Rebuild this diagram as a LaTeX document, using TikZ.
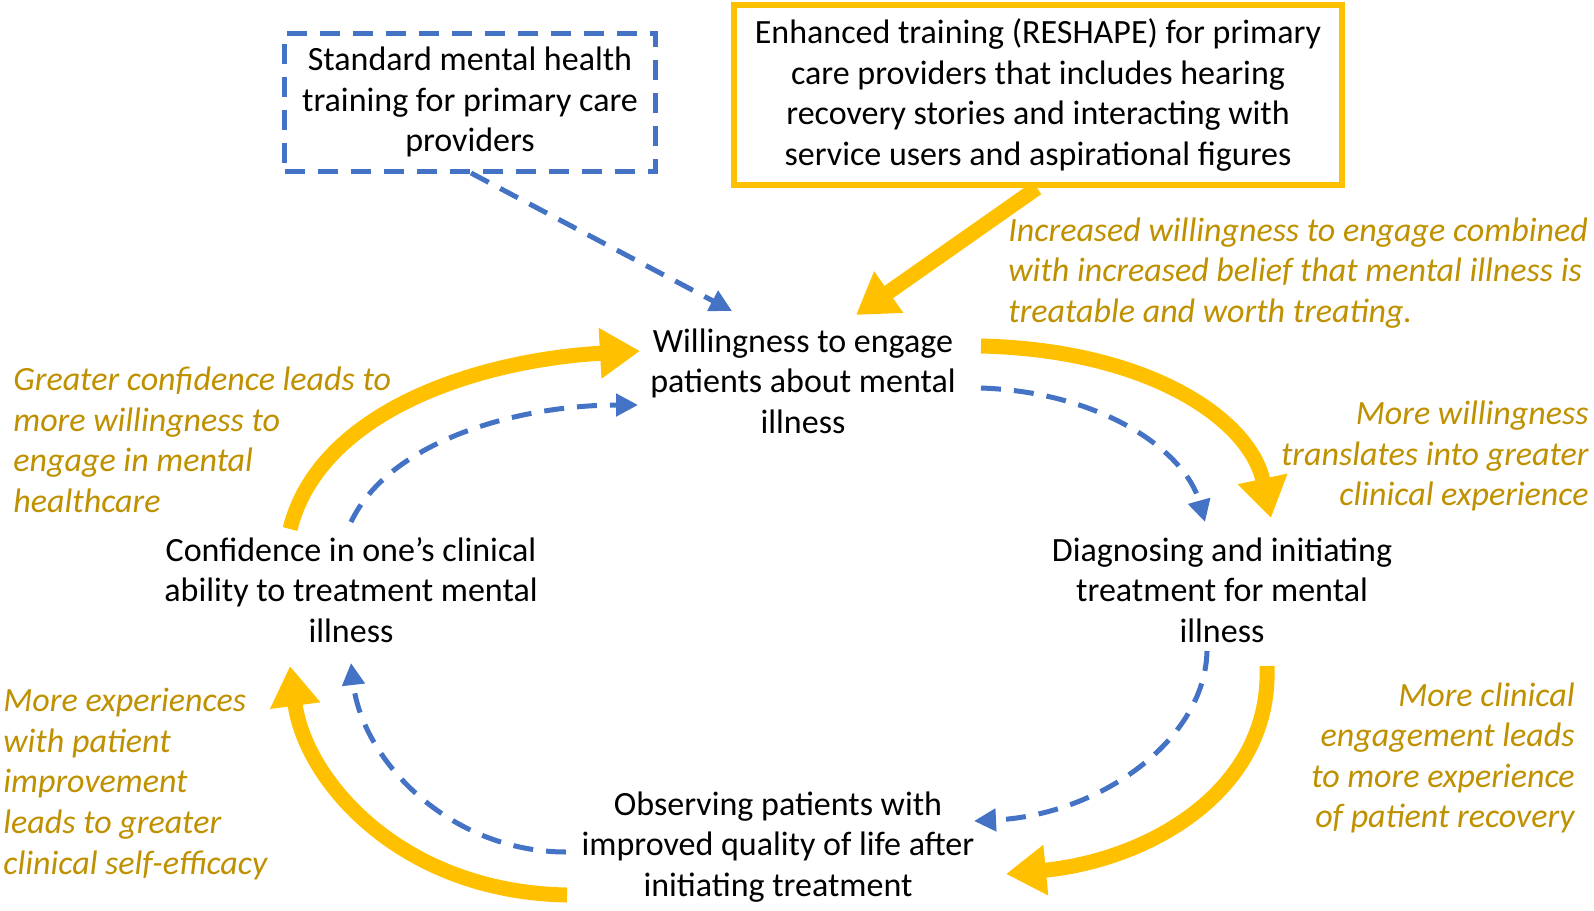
\documentclass[tikz,border=0pt]{standalone}
\usepackage{fontspec}
\setmainfont{Carlito}
\usetikzlibrary{arrows.meta}
\definecolor{ygold}{HTML}{FFC000}
\definecolor{bblue}{HTML}{4472C4}
\definecolor{lgold}{HTML}{BF9000}
\begin{document}
\begin{tikzpicture}[x=0.5pt,y=-0.5pt,
  main/.style={align=center,inner sep=0pt,font=\fontsize{17}{20.3}\selectfont},
  lab/.style={inner sep=0pt,text=lgold,font=\fontsize{17}{20.3}\selectfont\itshape},
  yarrow/.style={draw=ygold,line width=7.5pt,-{Triangle[length=20pt,width=24pt]}},
  barrow/.style={draw=bblue,line width=2.5pt,dash pattern=on 10pt off 6.5pt,-{Triangle[length=11pt,width=11pt]}}]
\useasboundingbox (0,0) rectangle (1594,910);
% boxes
\node[main,draw=bblue,line width=2.5pt,dash pattern=on 10pt off 6.5pt,minimum width=185.5pt,minimum height=69pt] (std) at (470,102) {Standard mental health\\training for primary care\\providers};
\node[main,draw=ygold,line width=3pt,minimum width=304pt,minimum height=90pt] (enh) at (1038,95) {Enhanced training (RESHAPE) for primary\\care providers that includes hearing\\recovery stories and interacting with\\service users and aspirational figures};
% main nodes
\node[main] (will) at (803,381) {Willingness to engage\\patients about mental\\illness};
\node[main] (conf) at (351,590) {Confidence in one’s clinical\\ability to treatment mental\\illness};
\node[main] (diag) at (1222,590) {Diagnosing and initiating\\treatment for mental\\illness};
\node[main] (obs) at (778,847) {Observing patients with\\improved quality of life after\\initiating treatment};
% labels
\node[lab,align=left,anchor=west] (l1) at (1008,273) {Increased willingness to engage combined\\with increased belief that mental illness is\\treatable and worth treating.};
\node[lab,align=right,anchor=east] (l2) at (1589,456) {More willingness\\translates into greater\\clinical experience};
\node[lab,align=right,anchor=east] (l3) at (1575,758) {More clinical\\engagement leads\\to more experience\\of patient recovery};
\node[lab,align=left,anchor=west] (l4) at (13,440) {Greater confidence leads to\\more willingness to\\engage in mental\\healthcare};
\node[lab,align=left,anchor=west] (l5) at (3,784) {More experiences\\with patient\\improvement\\leads to greater\\clinical self-efficacy};
% connector endpoints
\coordinate (s1) at (471,173); \coordinate (e1) at (732,311);
\coordinate (s2) at (1037,188); \coordinate (e2) at (856,315);
\coordinate (s3) at (981,346); \coordinate (e3) at (1271,518);
\coordinate (s4) at (981,388); \coordinate (e4) at (1205,522);
\coordinate (s5) at (1267,666); \coordinate (e5) at (1006,874);
\coordinate (s6) at (1207,651); \coordinate (e6) at (974,821);
\coordinate (s7) at (567,895); \coordinate (e7) at (290,666);
\coordinate (s8) at (566,852); \coordinate (e8) at (351,663);
\coordinate (s9) at (290,529); \coordinate (e9) at (640,351);
\coordinate (s10) at (351,522); \coordinate (e10) at (638,405);
% connectors
\draw[barrow] (s1) -- (e1);
\draw[yarrow] (s2) -- (e2);
\draw[yarrow] (s3) .. controls (1150,350) and (1250,420) .. (e3);
\draw[barrow] (s4) .. controls (1100,392) and (1185,450) .. (e4);
\draw[yarrow] (s5) .. controls (1272,790) and (1150,860) .. (e5);
\draw[barrow] (s6) .. controls (1205,740) and (1100,815) .. (e6);
\draw[yarrow] (s7) .. controls (400,892) and (305,780) .. (e7);
\draw[barrow] (s8) .. controls (450,852) and (362,760) .. (e8);
\draw[yarrow] (s9) .. controls (320,410) and (480,360) .. (e9);
\draw[barrow] (s10) .. controls (390,440) and (520,405) .. (e10);
\end{tikzpicture}
\end{document}
